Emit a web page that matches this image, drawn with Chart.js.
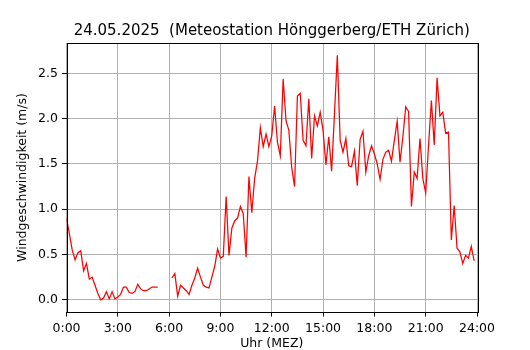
<!DOCTYPE html>
<html>
<head>
<meta charset="utf-8">
<script src="https://cdn.jsdelivr.net/npm/chart.js@4"></script>
<style>
  html, body { margin: 0; padding: 0; background: #fff; }
</style>
</head>
<body>
<canvas id="windChart" width="530" height="350"></canvas>
<script>
// 10-minute mean wind speed (m/s), one row per hour, 0:00 ... 23:50
const speed = [
  0.90, 0.73, 0.55, 0.44, 0.52, 0.54,
  0.32, 0.40, 0.23, 0.25, 0.16, 0.07,
  0.00, 0.02, 0.09, 0.01, 0.09, 0.01,
  0.03, 0.06, 0.14, 0.14, 0.08, 0.07,
  0.09, 0.17, 0.12, 0.10, 0.10, 0.12,
  0.14, 0.14, 0.14, null, null, null,
  null, 0.24, 0.29, 0.04, 0.16, 0.13,
  0.10, 0.06, 0.16, 0.24, 0.35, 0.25,
  0.16, 0.14, 0.13, 0.25, 0.37, 0.56,
  0.46, 0.48, 1.14, 0.49, 0.79, 0.87,
  0.90, 1.03, 0.95, 0.47, 1.36, 0.96,
  1.34, 1.53, 1.90, 1.69, 1.83, 1.69,
  1.81, 2.14, 1.74, 1.59, 2.44, 1.98,
  1.87, 1.46, 1.25, 2.25, 2.28, 1.76,
  1.70, 2.22, 1.56, 2.03, 1.92, 2.07,
  1.87, 1.49, 1.80, 1.42, 2.05, 2.70,
  1.76, 1.63, 1.78, 1.48, 1.47, 1.64,
  1.26, 1.77, 1.86, 1.41, 1.59, 1.70,
  1.61, 1.50, 1.33, 1.55, 1.63, 1.65,
  1.53, 1.76, 1.97, 1.52, 1.80, 2.13,
  2.08, 1.03, 1.41, 1.34, 1.78, 1.34,
  1.18, 1.70, 2.20, 1.71, 2.45, 2.03,
  2.07, 1.84, 1.85, 0.66, 1.04, 0.57,
  0.53, 0.40, 0.49, 0.46, 0.59, 0.43
];
const xTickLabels = ['0:00', '3:00', '6:00', '9:00', '12:00', '15:00', '18:00', '21:00', '24:00'];
const yTicks = [0.0, 0.5, 1.0, 1.5, 2.0, 2.5];

const titleText = '24.05.2025  (Meteostation Hönggerberg/ETH Zürich)';
const FONT = "'DejaVu Sans', sans-serif";

// sample i is at i*10 minutes, x axis in hours
const points = speed.map((v, i) => ({ x: i / 6, y: v }));

Chart.defaults.color = '#000';
Chart.defaults.font.family = FONT;

// title centred over the axes + frame on all four sides (matplotlib look)
const frame = {
  id: 'frame',
  afterDatasetsDraw(chart) {
    const { ctx, chartArea: a } = chart;
    ctx.save();
    ctx.strokeStyle = '#000';
    ctx.lineWidth = 1;
    ctx.strokeRect(Math.round(a.left) + 0.5, Math.round(a.top) + 0.5,
      Math.round(a.right - a.left), Math.round(a.bottom - a.top));
    ctx.restore();
  },
  afterDraw(chart) {
    const { ctx, chartArea: a } = chart;
    ctx.save();
    ctx.fillStyle = '#000';
    ctx.font = '15px ' + FONT;
    ctx.textAlign = 'center';
    ctx.textBaseline = 'alphabetic';
    ctx.fillText(titleText, (a.left + a.right) / 2, 34.5);
    ctx.restore();
  }
};

new Chart(document.getElementById('windChart'), {
  type: 'line',
  data: {
    datasets: [{
      data: points,
      borderColor: '#ff0000',
      borderWidth: 1.25,
      pointRadius: 0,
      tension: 0,
      spanGaps: false
    }]
  },
  options: {
    responsive: false,
    animation: false,
    layout: { padding: { left: 0, top: 43, right: 53, bottom: 0 } },
    plugins: {
      legend: { display: false },
      tooltip: { enabled: false }
    },
    scales: {
      x: {
        type: 'linear',
        min: 0,
        max: 24,
        afterBuildTicks: axis => { axis.ticks = xTickLabels.map((t, i) => ({ value: i * 3 })); },
        afterFit: scale => { scale.height = 38; },
        ticks: {
          autoSkip: false,
          maxRotation: 0,
          padding: 5,
          font: { size: 12.5 },
          callback: (v, i) => xTickLabels[i]
        },
        grid: { color: '#b0b0b0', lineWidth: 1, tickColor: '#000', tickLength: 4.5 },
        border: { display: false },
        title: { display: true, text: 'Uhr (MEZ)', font: { size: 12.5, lineHeight: 1 }, padding: { top: 0, bottom: 0 } }
      },
      y: {
        min: -0.135,
        max: 2.835,
        afterBuildTicks: axis => { axis.ticks = yTicks.map(v => ({ value: v })); },
        afterFit: scale => { scale.width = 66.5; },
        ticks: {
          padding: 4,
          font: { size: 12.5 },
          callback: v => v.toFixed(1)
        },
        grid: { color: '#b0b0b0', lineWidth: 1, tickColor: '#000', tickLength: 4.5 },
        border: { display: false },
        title: { display: true, text: 'Windgeschwindigkeit (m/s)', font: { size: 12.5 }, padding: { top: 15, bottom: 0 } }
      }
    }
  },
  plugins: [frame]
});
</script>
</body>
</html>
